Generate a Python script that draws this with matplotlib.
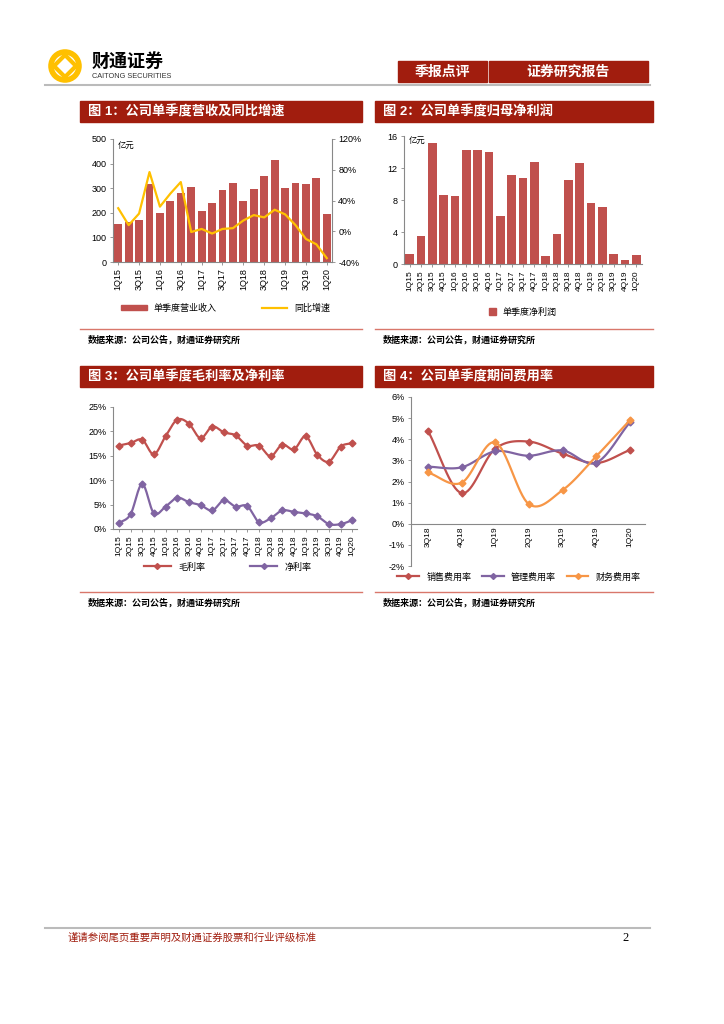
import numpy as np
import matplotlib
matplotlib.use("Agg")
import matplotlib.pyplot as plt
from matplotlib.patches import Rectangle, Circle, Polygon
from matplotlib.lines import Line2D

plt.rcParams['font.family'] = ['Liberation Sans', 'Noto Sans CJK SC', 'DejaVu Sans']
plt.rcParams['axes.unicode_minus'] = False

# ---------- data ----------
quarters = ["1Q15", "2Q15", "3Q15", "4Q15", "1Q16", "2Q16", "3Q16", "4Q16",
            "1Q17", "2Q17", "3Q17", "4Q17", "1Q18", "2Q18", "3Q18", "4Q18",
            "1Q19", "2Q19", "3Q19", "4Q19", "1Q20"]

revenue = [154, 163, 169, 317, 201, 246, 280, 306, 209, 240, 293, 321,
           246, 297, 351, 415, 302, 321, 317, 340, 195]
revenue_yoy = [30, 8, 23, 77, 32, 49, 64, -1, 3, -3, 3, 4,
               14, 21, 18, 28, 22, 8, -10, -17, -35]

net_profit = [1.25, 3.5, 15.1, 8.66, 8.54, 14.2, 14.2, 13.95, 6.04, 11.16, 10.7, 12.8,
              1.04, 3.8, 10.5, 12.6, 7.6, 7.1, 1.25, 0.45, 1.12]

gross_margin = [17.1, 17.6, 18.3, 15.3, 19.0, 22.4, 21.6, 18.6, 21.0, 19.8, 19.2, 17.1,
                17.1, 14.9, 17.3, 16.3, 19.0, 15.2, 13.8, 16.9, 17.6]
net_margin = [1.2, 3.0, 9.2, 3.2, 4.6, 6.4, 5.5, 4.9, 3.8, 5.9, 4.6, 4.7,
              1.4, 2.2, 3.8, 3.5, 3.2, 2.6, 1.0, 1.0, 1.8]

exp_quarters = ["3Q18", "4Q18", "1Q19", "2Q19", "3Q19", "4Q19", "1Q20"]
sales_exp = [4.41, 1.45, 3.55, 3.89, 3.32, 2.87, 3.49]
admin_exp = [2.70, 2.67, 3.43, 3.22, 3.47, 2.89, 4.80]
fin_exp = [2.43, 1.94, 3.85, 0.93, 1.59, 3.19, 4.90]

RED = "#A11D0E"
BAR = "#C0504D"
PURPLE = "#8064A2"
ORANGE = "#F79646"
YELLOW = "#FFC000"

W, H = 724, 1024


def rect(x0, y0, x1, y1):
    return [x0 / W, 1 - y1 / H, (x1 - x0) / W, (y1 - y0) / H]


# excel-like smoothed line (catmull-rom)
def smooth(xs, ys, n=16):
    xs = np.asarray(xs, float)
    ys = np.asarray(ys, float)
    px = np.concatenate([[2 * xs[0] - xs[1]], xs, [2 * xs[-1] - xs[-2]]])
    py = np.concatenate([[2 * ys[0] - ys[1]], ys, [2 * ys[-1] - ys[-2]]])
    t = np.linspace(0, 1, n, endpoint=False)
    outx, outy = [], []
    for i in range(1, len(px) - 2):
        for arr, out in ((px, outx), (py, outy)):
            p0, p1, p2, p3 = arr[i - 1:i + 3]
            out.extend(0.5 * (2 * p1 + (-p0 + p2) * t
                              + (2 * p0 - 5 * p1 + 4 * p2 - p3) * t ** 2
                              + (-p0 + 3 * p1 - 3 * p2 + p3) * t ** 3))
    outx.append(xs[-1])
    outy.append(ys[-1])
    return np.array(outx), np.array(outy)


def style_axis(ax):
    for s in ["top", "right"]:
        ax.spines[s].set_visible(False)
    for s in ["left", "bottom"]:
        ax.spines[s].set_color("#888888")
        ax.spines[s].set_linewidth(0.8)
    ax.tick_params(labelsize=6.5, length=2.5, width=0.6, color="#888888", pad=2)


fig = plt.figure(figsize=(W / 100, H / 100), dpi=100)

# page layer in pixel coordinates
bg = fig.add_axes([0, 0, 1, 1], zorder=-1)
bg.set_xlim(0, W)
bg.set_ylim(H, 0)
bg.axis("off")

# ---------- header ----------
bg.add_patch(Circle((65, 66), 14, fill=False, ec=YELLOW, lw=4))
bg.add_patch(Polygon([[65, 55], [76, 66], [65, 77], [54, 66]], closed=True,
                     fill=False, ec=YELLOW, lw=3))
bg.text(92, 62, "财通证券", fontsize=13, fontweight="bold", va="center", ha="left")
bg.text(92, 76, "CAITONG SECURITIES", fontsize=5.3, va="center", ha="left", color="#333333")
bg.add_patch(Rectangle((398, 61), 89, 21, color=RED))
bg.add_patch(Rectangle((489, 61), 159, 21, color=RED))
bg.text(442.5, 71.5, "季报点评", color="white", fontsize=10, fontweight="bold",
        ha="center", va="center")
bg.text(568.5, 71.5, "证券研究报告", color="white", fontsize=10, fontweight="bold",
        ha="center", va="center")
bg.plot([45, 650], [84.5, 84.5], color="#BBBBBB", lw=1.5)

# ---------- section titles / sources ----------
titles = [(80, 362, 101, "图 1：公司单季度营收及同比增速"),
          (375, 653, 101, "图 2：公司单季度归母净利润"),
          (80, 362, 366, "图 3：公司单季度毛利率及净利率"),
          (375, 653, 366, "图 4：公司单季度期间费用率")]
for x0, x1, y0, txt in titles:
    bg.add_patch(Rectangle((x0, y0), x1 - x0, 21, color=RED))
    bg.text(x0 + 8, y0 + 10.5, txt, color="white", fontsize=9.5, fontweight="bold",
            ha="left", va="center")

for x0, x1, yl in [(80, 362, 329), (375, 653, 329), (80, 362, 592), (375, 653, 592)]:
    bg.plot([x0, x1], [yl, yl], color="#D9776B", lw=1)
    bg.text(x0 + 8, yl + 11, "数据来源：公司公告，财通证券研究所", fontsize=6.5,
            fontweight="bold", ha="left", va="center")

# ---------- footer ----------
bg.plot([45, 650], [928, 928], color="#BBBBBB", lw=1.5)
bg.text(68, 938, "谨请参阅尾页重要声明及财通证券股票和行业评级标准", color=RED,
        fontsize=7.5, ha="left", va="center")
bg.text(626, 938, "2", fontsize=9, ha="center", va="center", family="Liberation Serif")

# ---------- chart 1 ----------
x = np.arange(len(quarters))
ax1 = fig.add_axes(rect(113, 139, 332, 262))
style_axis(ax1)
ax1.bar(x, revenue, width=0.75, color=BAR, zorder=2)
ax1.set_xlim(-0.5, len(quarters) - 0.5)
ax1.set_ylim(0, 500)
ax1.set_yticks(range(0, 501, 100))
ax1.set_xticks(x[::2])
ax1.set_xticklabels(quarters[::2], rotation=90)
ax1.text(0.02, 0.98, "亿元", transform=ax1.transAxes, fontsize=6, va="top", ha="left")
ax1r = ax1.twinx()
ax1r.set_position(rect(113, 139, 332, 262))
ax1r.plot(x, revenue_yoy, color=YELLOW, lw=1.6, zorder=3)
ax1r.set_ylim(-40, 120)
ax1r.set_yticks(range(-40, 121, 40))
ax1r.set_yticklabels([f"{v}%" for v in range(-40, 121, 40)])
for s in ["top", "left", "bottom"]:
    ax1r.spines[s].set_visible(False)
ax1r.spines["right"].set_color("#888888")
ax1r.spines["right"].set_linewidth(0.8)
ax1r.tick_params(labelsize=6.5, length=2.5, width=0.6, color="#888888", pad=2)
h1 = [Rectangle((0, 0), 1, 1, color=BAR), Line2D([], [], color=YELLOW, lw=1.6)]
fig.legend(h1, ["单季度营业收入", "同比增速"], loc="center",
           bbox_to_anchor=((120 + 332) / 2 / W, 1 - 308 / H), ncol=2, frameon=False,
           fontsize=6.5, handlelength=2.8, handleheight=0.6, columnspacing=5)

# ---------- chart 2 ----------
ax2 = fig.add_axes(rect(404, 136, 642, 264))
style_axis(ax2)
ax2.bar(x, net_profit, width=0.75, color=BAR, zorder=2)
ax2.set_xlim(-0.5, len(quarters) - 0.5)
ax2.set_ylim(0, 16)
ax2.set_yticks(range(0, 17, 4))
ax2.set_xticks(x)
ax2.set_xticklabels(quarters, rotation=90, fontsize=6)
ax2.text(0.02, 0.99, "亿元", transform=ax2.transAxes, fontsize=6, va="top", ha="left")
fig.legend([Rectangle((0, 0), 1, 1, color=BAR)], ["单季度净利润"], loc="center",
           bbox_to_anchor=((404 + 642) / 2 / W, 1 - 312 / H), frameon=False,
           fontsize=6.5, handlelength=0.7, handleheight=0.7)

# ---------- chart 3 ----------
ax3 = fig.add_axes(rect(113, 407, 357, 529))
style_axis(ax3)
sx, sy = smooth(x, gross_margin)
ax3.plot(sx, sy, color=BAR, lw=1.6)
ax3.plot(x, gross_margin, "D", color=BAR, ms=3.5)
sx, sy = smooth(x, net_margin)
ax3.plot(sx, sy, color=PURPLE, lw=1.6)
ax3.plot(x, net_margin, "D", color=PURPLE, ms=3.5)
ax3.set_xlim(-0.5, len(quarters) - 0.6)
ax3.set_ylim(0, 25)
ax3.set_yticks(range(0, 26, 5))
ax3.set_yticklabels([f"{v}%" for v in range(0, 26, 5)])
ax3.set_xticks(x)
ax3.set_xticklabels(quarters, rotation=90, fontsize=6)
h3 = [Line2D([], [], color=BAR, lw=1.6, marker="D", ms=3),
      Line2D([], [], color=PURPLE, lw=1.6, marker="D", ms=3)]
fig.legend(h3, ["毛利率", "净利率"], loc="center",
           bbox_to_anchor=((113 + 357) / 2 / W - 0.01, 1 - 567 / H), ncol=2, frameon=False,
           fontsize=6.5, handlelength=3, columnspacing=5)

# ---------- chart 4 ----------
xe = np.arange(len(exp_quarters))
ax4 = fig.add_axes(rect(411, 397, 645, 566))
style_axis(ax4)
ax4.spines["bottom"].set_position(("data", 0))
for vals, col in [(sales_exp, BAR), (admin_exp, PURPLE), (fin_exp, ORANGE)]:
    sx, sy = smooth(xe, vals)
    ax4.plot(sx, sy, color=col, lw=1.6)
    ax4.plot(xe, vals, "D", color=col, ms=3.5)
ax4.set_xlim(-0.5, len(exp_quarters) - 0.55)
ax4.set_ylim(-2, 6)
ax4.set_yticks(range(-2, 7))
ax4.set_yticklabels([f"{v}%" for v in range(-2, 7)])
ax4.set_xticks(xe)
ax4.set_xticklabels(exp_quarters, rotation=90, fontsize=6)
ax4.tick_params(axis="x", length=0)
h4 = [Line2D([], [], color=c, lw=1.6, marker="D", ms=3) for c in (BAR, PURPLE, ORANGE)]
fig.legend(h4, ["销售费用率", "管理费用率", "财务费用率"], loc="center",
           bbox_to_anchor=(519 / W, 1 - 577 / H), ncol=3, frameon=False,
           fontsize=6.5, handlelength=2.4, columnspacing=1.2)

fig.savefig("out.png", dpi=100)
